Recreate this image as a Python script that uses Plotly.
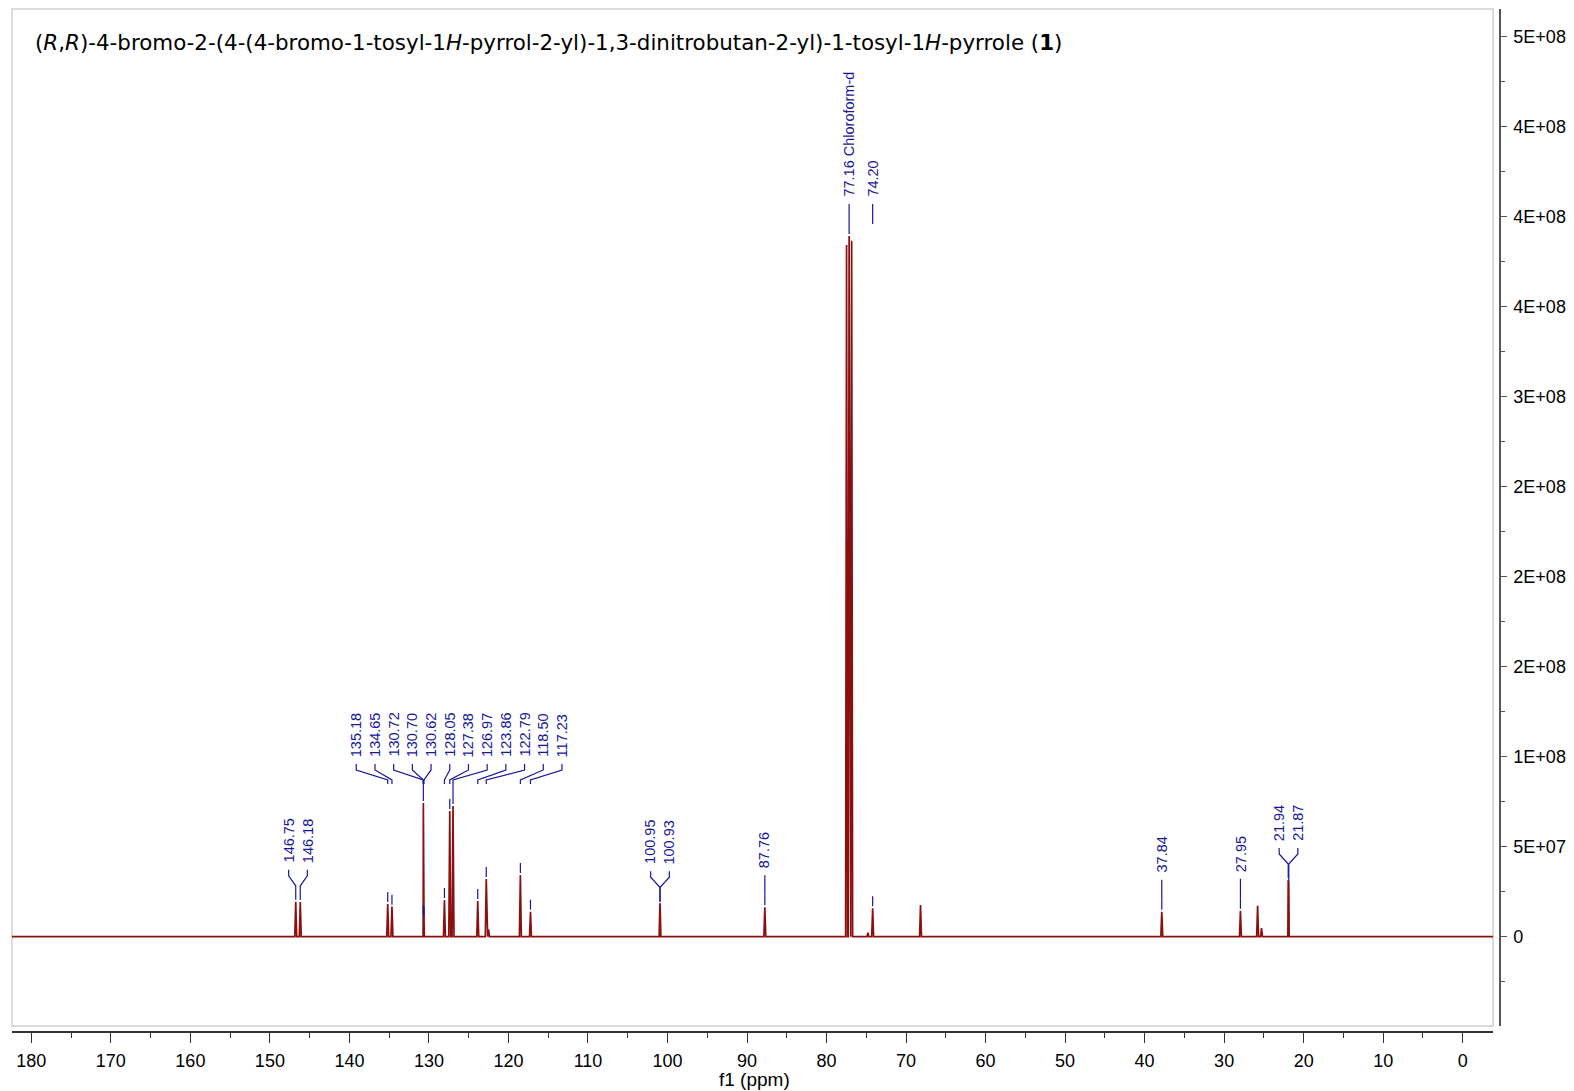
import plotly.graph_objects as go

# ---------------- data ----------------
PEAK_PPM = [146.75, 146.18, 135.18, 134.65, 130.72, 130.70, 130.62, 128.05, 127.38,
            126.97, 123.86, 122.79, 122.50, 118.50, 117.23, 100.95, 100.93, 87.76,
            77.48, 77.16, 76.84, 74.80, 74.20, 68.18, 37.84, 27.95, 25.79, 25.30,
            21.94, 21.87]
PEAK_HEIGHT = [1.94e7, 1.93e7, 1.82e7, 1.67e7, 1.09e7, 7.43e7, 1.0e7, 2.04e7, 6.98e7,
               7.26e7, 1.98e7, 3.21e7, 4.1e6, 3.43e7, 1.39e7, 1.86e7, 1.80e7, 1.63e7,
               3.843e8, 3.893e8, 3.867e8, 2.2e6, 1.58e7, 1.76e7, 1.39e7, 1.44e7, 1.72e7,
               4.8e6, 3.15e7, 3.0e7]

LABEL_GROUPS = [
    [146.75, 146.18],
    [135.18, 134.65, 130.72, 130.70, 130.62, 128.05, 127.38, 126.97, 123.86, 122.79, 118.50, 117.23],
    [100.95, 100.93],
    [87.76],
    [77.16, 74.20],
    [37.84],
    [27.95],
    [21.94, 21.87],
]
LABEL_SUFFIX = {77.16: " Chloroform-d"}

X_TICKS = [180, 170, 160, 150, 140, 130, 120, 110, 100, 90, 80, 70, 60, 50, 40, 30, 20, 10, 0]
Y_TICKS = [0, 5e7, 1e8, 1.5e8, 2e8, 2.5e8, 3e8, 3.5e8, 4e8, 4.5e8, 5e8]
Y_TICK_TEXT = ["0", "5E+07", "1E+08", "2E+08", "2E+08", "2E+08", "3E+08", "4E+08", "4E+08", "4E+08", "5E+08"]
Y_MINOR = [-2.5e7, 2.5e7, 7.5e7, 1.25e8, 1.75e8, 2.25e8, 2.75e8, 3.25e8, 3.75e8, 4.25e8, 4.75e8]

TITLE = ("(<i>R</i>,<i>R</i>)-4-bromo-2-(4-(4-bromo-1-tosyl-1<i>H</i>-pyrrol-2-yl)-1,3-"
         "dinitrobutan-2-yl)-1-tosyl-1<i>H</i>-pyrrole (<b>1</b>)")

# ---------------- layout geometry ----------------
W, H = 1574, 1091
ML, MR, MT, MB = 12, 74, 9, 59
PW, PH = W - ML - MR, H - MT - MB
XD_RIGHT = 1493          # right edge of data frame (px)
YD_BOTTOM = 1026         # bottom edge of data frame (px)
X_RANGE = [182.43, -3.81]
Y_RANGE = [-4.961e7, 5.1539e8]

X_DOM = [0, (XD_RIGHT - ML) / PW]
Y_DOM = [(MT + PH - YD_BOTTOM) / PH, 1]


def ppm_to_px(p):
    return ML + (p - X_RANGE[0]) / (X_RANGE[1] - X_RANGE[0]) * (XD_RIGHT - ML)


def px_to_ppm(px):
    return X_RANGE[0] + (px - ML) / (XD_RIGHT - ML) * (X_RANGE[1] - X_RANGE[0])


def val_to_py(v):
    return YD_BOTTOM - (v - Y_RANGE[0]) / (Y_RANGE[1] - Y_RANGE[0]) * (YD_BOTTOM - MT)


def py_to_val(py):
    return Y_RANGE[0] + (YD_BOTTOM - py) / (YD_BOTTOM - MT) * (Y_RANGE[1] - Y_RANGE[0])


RED = "#8b0f0f"
BLUE = "#17179c"
FONT = "Liberation Sans"

# ---------------- spectrum line from peak list ----------------
HW = 0.12
verts = [(X_RANGE[0], 0.0), (X_RANGE[1], 0.0)]
for p, h in zip(PEAK_PPM, PEAK_HEIGHT):
    verts += [(p + HW, 0.0), (p, h), (p - HW, 0.0)]
verts.sort(key=lambda t: -t[0])
sx = [v[0] for v in verts]
sy = [v[1] for v in verts]

fig = go.Figure()
fig.add_trace(go.Scatter(x=sx, y=sy, mode="lines", line=dict(color=RED, width=1.7),
                         hoverinfo="skip", showlegend=False))

# ---------------- peak labels ----------------
height_of = dict(zip(PEAK_PPM, PEAK_HEIGHT))
SPACING = 18.7
lx_all, ly_all = [], []
annotations = []
for grp in LABEL_GROUPS:
    pxs = [ppm_to_px(p) for p in grp]
    tops = [val_to_py(height_of[p]) for p in grp]
    n = len(grp)
    gaps = [pxs[i + 1] - pxs[i] for i in range(n - 1)]
    if all(g >= SPACING for g in gaps):
        lxs = pxs
    else:
        c = (pxs[0] + pxs[-1]) / 2
        lxs = [c + (i - (n - 1) / 2) * SPACING for i in range(n)]
    offset = 45 if n > 4 else 38
    yb = min(tops) - offset
    for p, px, lx, top in zip(grp, pxs, lxs, tops):
        txt = f"{p:.2f}" + LABEL_SUFFIX.get(p, "")
        annotations.append(dict(x=px_to_ppm(lx), y=py_to_val(yb), xref="x", yref="y",
                                text=txt, textangle=-90, showarrow=False,
                                xanchor="center", yanchor="bottom", borderpad=0,
                                font=dict(family=FONT, size=14.5, color=BLUE)))
        pts = [(lx, yb + 6), (lx, yb + 12), (px, yb + 22), (px, yb + 26)]
        for (ax, ay) in pts:
            lx_all.append(px_to_ppm(ax))
            ly_all.append(py_to_val(ay))
        lx_all.append(None)
        ly_all.append(None)
        conn_end = yb + 26
        m0 = top - 12 if (top - 12) - conn_end > 12 else conn_end
        lx_all += [px_to_ppm(px), px_to_ppm(px), None]
        ly_all += [py_to_val(m0), py_to_val(top - 2), None]

fig.add_trace(go.Scatter(x=lx_all, y=ly_all, mode="lines", line=dict(color=BLUE, width=1.2),
                         hoverinfo="skip", showlegend=False, connectgaps=False))

annotations.append(dict(x=(33 - ML) / PW, y=(MT + PH - 43) / PH, xref="paper", yref="paper",
                        text=TITLE, showarrow=False, xanchor="left", yanchor="middle",
                        font=dict(family="DejaVu Sans", size=21.4, color="#000")))
annotations.append(dict(x=(754 - ML) / PW, y=(MT + PH - 1079) / PH, xref="paper", yref="paper",
                        text="f1 (ppm)", showarrow=False, xanchor="center", yanchor="middle",
                        font=dict(family=FONT, size=19, color="#000")))

fig.update_layout(
    width=W, height=H,
    margin=dict(l=ML, r=MR, t=MT, b=MB, pad=0, autoexpand=False),
    paper_bgcolor="white", plot_bgcolor="white",
    showlegend=False,
    annotations=annotations,
    xaxis=dict(domain=X_DOM, range=X_RANGE, anchor="free", position=0, automargin=False,
               showline=True, linecolor="#333", linewidth=1.5,
               ticks="outside", ticklen=10, tickcolor="#333", tickwidth=1.3,
               tickvals=X_TICKS, ticktext=[str(t) for t in X_TICKS],
               minor=dict(dtick=5, tick0=0, ticks="outside", ticklen=5, tickcolor="#333", tickwidth=1.3),
               showgrid=False, zeroline=False, ticklabelstandoff=3,
               tickfont=dict(family=FONT, size=18, color="#000")),
    yaxis=dict(domain=Y_DOM, range=Y_RANGE, anchor="free", position=1, side="right", automargin=False,
               showline=True, linecolor="#555", linewidth=1.5,
               ticks="outside", ticklen=6, tickcolor="#555", tickwidth=1.3,
               tickvals=Y_TICKS, ticktext=Y_TICK_TEXT,
               minor=dict(tickvals=Y_MINOR, ticks="outside", ticklen=4, tickcolor="#555", tickwidth=1.3),
               showgrid=False, zeroline=False, ticklabelstandoff=3,
               tickfont=dict(family=FONT, size=18, color="#000")),
    shapes=[dict(type="rect", xref="x domain", yref="y domain", x0=0, x1=1, y0=0, y1=1,
                 line=dict(color="#cfcfcf", width=1.5), layer="below")],
)

fig.write_html("out.html")
